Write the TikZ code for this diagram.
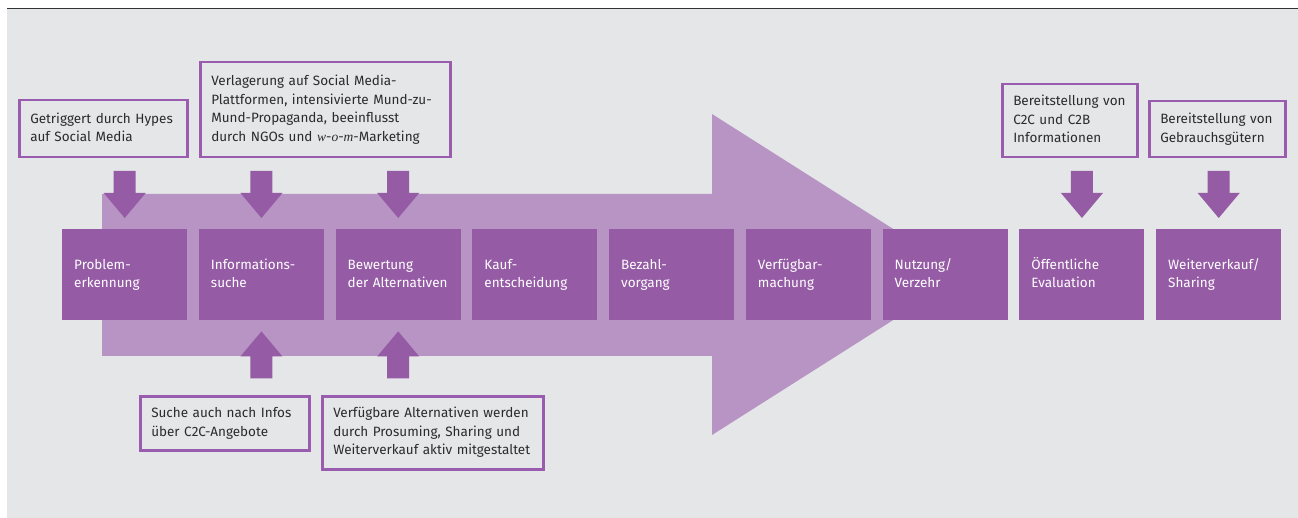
\documentclass[tikz,border=0pt]{standalone}
\usepackage{fontspec}
\setmainfont{Fira Sans}
\newfontfamily\wordserif{Liberation Serif}
\usetikzlibrary{calc}
\definecolor{bggray}{HTML}{E5E6E8}
\definecolor{stepcol}{HTML}{955BA5}
\definecolor{flowcol}{HTML}{B794C4}
\definecolor{linecol}{HTML}{9A5CAE}
\definecolor{textcol}{HTML}{2B2B2B}
\definecolor{rulecol}{HTML}{333333}
\newcommand{\wom}{{\wordserif\itshape w}-{\wordserif\itshape o}-{\wordserif\itshape m}}
\tikzset{
  boxfont/.style={font=\fontsize{13.5}{18.5}\selectfont,
    execute at begin node=\strut, execute at end node=\strut},
  stepbox/.style={boxfont, fill=stepcol, text=white, minimum width=125pt, minimum height=91pt,
    inner xsep=12pt, inner ysep=0pt, text width=101pt, align=left, anchor=north west},
  notebox/.style={boxfont, draw=linecol, line width=2.5pt, fill=bggray, text=textcol,
    inner xsep=11pt, inner ysep=0pt, align=left, anchor=north west},
  dnarrow/.pic={\fill[stepcol] (-11,0) -- (11,0) -- (11,22) -- (21,22) -- (0,47)
    -- (-21,22) -- (-11,22) -- cycle;},
  uparrow/.pic={\fill[stepcol] (-11,0) -- (11,0) -- (11,-22) -- (21,-22) -- (0,-47)
    -- (-21,-22) -- (-11,-22) -- cycle;}
}
\begin{document}
\begin{tikzpicture}[x=1pt,y=-1pt]
\useasboundingbox (0,0) rectangle (1298,518);
% panel and top rule
\fill[bggray] (7,9) rectangle (1298,518);
\draw[rulecol, line width=1.5pt] (7,8.5) -- (1298,8.5);

% large process arrow in the background
\fill[flowcol] (102,194) -- (712,194) -- (712,114) -- (965,274.5) -- (712,435)
  -- (712,356) -- (102,356) -- cycle;

% process steps
\node[stepbox] (s1) at (62,229) {Problem-\\erkennung};
\node[stepbox] (s2) at (198.75,229) {Informations-\\suche};
\node[stepbox] (s3) at (335.5,229) {Bewertung\\der Alternativen};
\node[stepbox] (s4) at (472.25,229) {Kauf-\\entscheidung};
\node[stepbox] (s5) at (609,229) {Bezahl-\\vorgang};
\node[stepbox] (s6) at (745.75,229) {Verfügbar-\\machung};
\node[stepbox] (s7) at (882.5,229) {Nutzung/\\Verzehr};
\node[stepbox] (s8) at (1019.25,229) {Öffentliche\\Evaluation};
\node[stepbox] (s9) at (1156,229) {Weiterverkauf/\\Sharing};

% notes above
\node[notebox, text width=146pt, minimum height=57pt] (n1) at (18,99)
  {Getriggert durch Hypes\\auf Social Media};
\node[notebox, text width=228pt, minimum height=95pt] (n2) at (199,61)
  {Verlagerung auf Social Media-\\Plattformen, intensivierte Mund-zu-\\Mund-Propaganda, beeinflusst\\durch NGOs und \wom-Marketing};
\node[notebox, text width=113pt, minimum height=73pt] (n3) at (1001,83)
  {Bereitstellung von\\C2C und C2B\\Informationen};
\node[notebox, text width=114pt, minimum height=56pt] (n4) at (1148,100)
  {Bereitstellung von\\Gebrauchsgütern};

% notes below
\node[notebox, text width=147pt, minimum height=54pt] (n5) at (139,395)
  {Suche auch nach Infos\\über C2C-Angebote};
\node[notebox, text width=199pt, minimum height=73pt] (n6) at (321,395)
  {Verfügbare Alternativen werden\\durch Prosuming, Sharing und\\Weiterverkauf aktiv mitgestaltet};

% influence arrows
\pic at ($(s1.north)+(0,-58)$) {dnarrow};
\pic at ($(s2.north)+(0,-58)$) {dnarrow};
\pic at ($(s3.north)+(0,-58)$) {dnarrow};
\pic at ($(s8.north)+(0,-58)$) {dnarrow};
\pic at ($(s9.north)+(0,-58)$) {dnarrow};
\pic at ($(s2.south)+(0,58)$) {uparrow};
\pic at ($(s3.south)+(0,58)$) {uparrow};
\end{tikzpicture}
\end{document}
